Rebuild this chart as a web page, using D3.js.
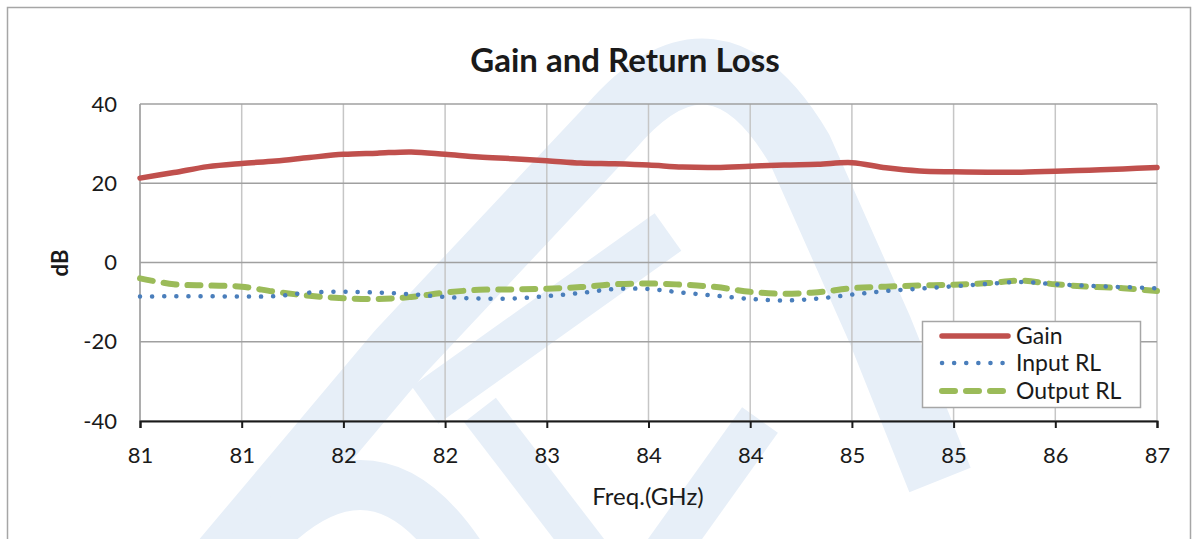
<!DOCTYPE html>
<html>
<head>
<meta charset="utf-8">
<script src="https://cdn.jsdelivr.net/npm/d3@7"></script>
<style>
  html, body { margin: 0; padding: 0; background: #ffffff; }
  svg { display: block; }
  text { font-family: Lato, "Open Sans", sans-serif; fill: #1a1a1a; }
</style>
</head>
<body>
<svg id="chart" width="1202" height="539"></svg>
<script>
// ---------- data ----------
const freq = [80.6, 80.8, 81.0, 81.2, 81.4, 81.6, 81.8, 82.0, 82.2, 82.4,
              82.6, 82.8, 83.0, 83.2, 83.4, 83.6, 83.8, 84.0, 84.2, 84.4,
              84.6, 84.8, 85.0, 85.2, 85.4, 85.6, 85.8, 86.0, 86.2, 86.4, 86.6];
const gain = [21.3, 22.7, 24.2, 25.0, 25.6, 26.5, 27.3, 27.6, 27.9, 27.3,
              26.6, 26.2, 25.7, 25.1, 24.9, 24.6, 24.1, 24.0, 24.3, 24.6,
              24.8, 25.2, 23.9, 23.1, 22.9, 22.8, 22.8, 23.0, 23.3, 23.6, 24.0];
const inputRL = [-8.6, -8.5, -8.5, -8.6, -8.5, -7.6, -7.4, -7.6, -8.0, -8.7,
                 -9.1, -9.1, -8.5, -7.7, -6.7, -6.7, -7.6, -8.4, -9.2, -9.6,
                 -9.1, -8.1, -7.2, -6.6, -6.0, -5.4, -4.9, -5.5, -5.9, -6.2, -6.5];
const outputRL = [-4.0, -5.5, -5.8, -6.1, -7.4, -8.4, -9.0, -9.2, -8.7, -7.6,
                  -6.9, -6.8, -6.6, -6.2, -5.5, -5.3, -5.6, -6.2, -7.4, -7.9,
                  -7.5, -6.5, -6.1, -5.8, -5.6, -5.2, -4.6, -5.5, -6.1, -6.5, -7.2];
const xTickValues = [80.6, 81.2, 81.8, 82.4, 83.0, 83.6, 84.2, 84.8, 85.4, 86.0, 86.6];
const xTickLabels = ["81", "81", "82", "82", "83", "84", "84", "85", "85", "86", "87"];
const yTickValues = [-40, -20, 0, 20, 40];
const yTickLabels = ["-40", "-20", "0", "20", "40"];
const seriesNames = ["Gain", "Input RL", "Output RL"];

// ---------- layout ----------
const svg = d3.select("#chart");
const W = 1202, H = 539;
const m = { left: 140, right: 1157, top: 104, bottom: 421 };

const x = d3.scaleLinear().domain([80.6, 86.6]).range([m.left, m.right]);
const y = d3.scaleLinear().domain([-40, 40]).range([m.bottom, m.top]);

svg.append("rect").attr("width", W).attr("height", H).attr("fill", "#fff");

// ---------- watermark (decorative logo) ----------
const wm = svg.append("g").attr("fill", "none").attr("stroke", "#e7eff8")
  .attr("stroke-linejoin", "round");
wm.append("path").attr("stroke-width", 66)
  .attr("d", "M225,560 L400,352 L610,128 Q715,5 800,150 L880,330 L940,480");
wm.append("path").attr("stroke-width", 46)
  .attr("d", "M425,405 L668,232");
wm.append("path").attr("stroke-width", 50)
  .attr("d", "M235,570 Q368,400 470,570");
wm.append("path").attr("stroke-width", 40)
  .attr("d", "M480,410 L595,560");
wm.append("path").attr("stroke-width", 44)
  .attr("d", "M760,420 L660,560");

// outer border
svg.append("rect").attr("x", 7.5).attr("y", 7.5).attr("width", 1183).attr("height", 560)
  .attr("fill", "none").attr("stroke", "#a6a6a6").attr("stroke-width", 1.5);

// ---------- grid ----------
const grid = svg.append("g");
grid.selectAll("line.v").data(xTickValues).join("line")
  .attr("x1", d => x(d)).attr("x2", d => x(d))
  .attr("y1", m.top).attr("y2", m.bottom)
  .attr("stroke", "#c6c6c6").attr("stroke-width", 1.5);
grid.selectAll("line.h").data(yTickValues).join("line")
  .attr("x1", m.left).attr("x2", m.right)
  .attr("y1", d => y(d)).attr("y2", d => y(d))
  .attr("stroke", "#a0a0a0").attr("stroke-width", 1.5);
grid.append("line").attr("x1", m.left).attr("x2", m.left)
  .attr("y1", m.top).attr("y2", m.bottom)
  .attr("stroke", "#a0a0a0").attr("stroke-width", 1.5);

// ---------- axes ----------
const xAxis = d3.axisBottom(x).tickValues(xTickValues)
  .tickFormat((d, i) => xTickLabels[i]).tickSize(7).tickPadding(19);
const gx = svg.append("g").attr("transform", `translate(0,${m.bottom})`).call(xAxis);
gx.select(".domain").attr("stroke", "#1a1a1a").attr("stroke-width", 2);
gx.selectAll(".tick line").attr("stroke", "#1a1a1a").attr("stroke-width", 2);
gx.selectAll(".tick text").attr("font-size", 22).attr("font-family", "Lato, sans-serif").attr("fill", "#1a1a1a");

const yAxis = d3.axisLeft(y).tickValues(yTickValues)
  .tickFormat((d, i) => yTickLabels[i]).tickSize(0).tickPadding(23);
const gy = svg.append("g").attr("transform", `translate(${m.left},0)`).call(yAxis);
gy.select(".domain").remove();
gy.selectAll(".tick text").attr("font-size", 22).attr("font-family", "Lato, sans-serif").attr("fill", "#1a1a1a");

// ---------- series ----------
const line = d3.line().curve(d3.curveCatmullRom.alpha(0.5));
const mk = vals => freq.map((f, i) => [x(f), y(vals[i])]);

const plot = svg.append("g");
plot.append("path").attr("d", line(mk(outputRL))).attr("fill", "none")
  .attr("stroke", "#9bbb59").attr("stroke-width", 6)
  .attr("stroke-dasharray", "13,11").attr("stroke-linecap", "round");
plot.append("path").attr("d", line(mk(inputRL))).attr("fill", "none")
  .attr("stroke", "#4a7ebb").attr("stroke-width", 4.5)
  .attr("stroke-dasharray", "0.1,12").attr("stroke-linecap", "round");
plot.append("path").attr("d", line(mk(gain))).attr("fill", "none")
  .attr("stroke", "#c0504d").attr("stroke-width", 5.5).attr("stroke-linecap", "round");

// ---------- titles ----------
svg.append("text").attr("x", 625).attr("y", 72).attr("text-anchor", "middle")
  .attr("font-size", 33).attr("font-weight", "bold").text("Gain and Return Loss");
svg.append("text").attr("x", 648).attr("y", 505).attr("text-anchor", "middle")
  .attr("font-size", 24).text("Freq.(GHz)");
svg.append("text").attr("transform", "translate(68,263) rotate(-90)")
  .attr("text-anchor", "middle").attr("font-size", 22).attr("font-weight", "bold").text("dB");

// ---------- legend ----------
const lg = svg.append("g");
lg.append("rect").attr("x", 922.5).attr("y", 321.5).attr("width", 218).attr("height", 86)
  .attr("fill", "#fff").attr("stroke", "#a6a6a6").attr("stroke-width", 1.5);
const styles = [
  { c: "#c0504d", w: 5.5, dash: null },
  { c: "#4a7ebb", w: 4.5, dash: "0.1,12" },
  { c: "#9bbb59", w: 6, dash: "13,11" }
];
const rowY = [336, 363, 391];
seriesNames.forEach((n, i) => {
  const s = styles[i];
  const l = lg.append("line").attr("x1", 942).attr("x2", 1008)
    .attr("y1", rowY[i]).attr("y2", rowY[i])
    .attr("stroke", s.c).attr("stroke-width", s.w).attr("stroke-linecap", "round");
  if (s.dash) l.attr("stroke-dasharray", s.dash);
  lg.append("text").attr("x", 1016).attr("y", rowY[i]).attr("dy", "0.36em")
    .attr("font-size", 23).text(n);
});
</script>
</body>
</html>
